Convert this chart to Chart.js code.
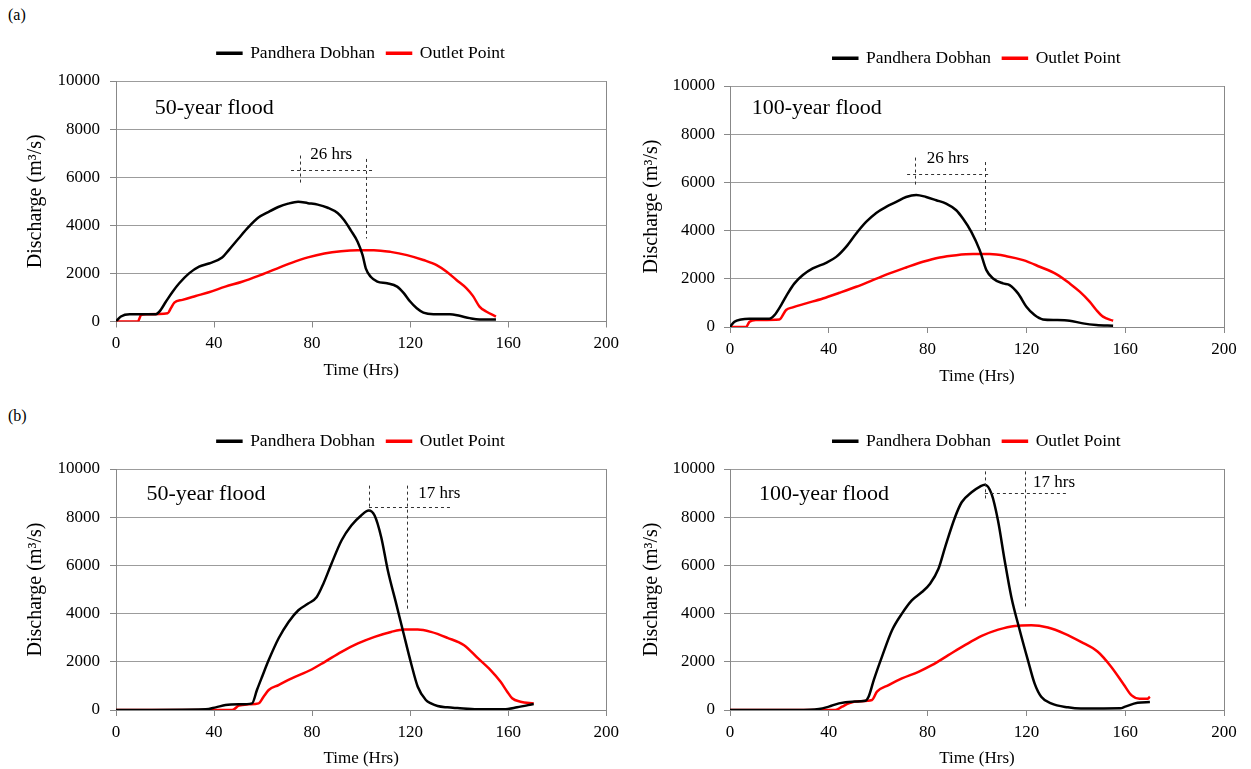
<!DOCTYPE html>
<html>
<head>
<meta charset="utf-8">
<title>Flood hydrographs</title>
<script src="https://cdn.jsdelivr.net/npm/chart.js@4.4.1/dist/chart.umd.min.js"></script>
<style>
    html, body {
        margin: 0;
        padding: 0;
        background: #fff;
    }
    body {
        position: relative;
        width: 1251px;
        height: 769px;
        overflow: hidden;
        font-family: "Liberation Serif", "Times New Roman", serif;
    }
    .panel {
        position: absolute;
    }
    .tag {
        position: absolute;
        left: 8px;
        font-size: 16px;
        line-height: 20px;
        color: #000;
    }
</style>
</head>
<body>
<div class="tag" style="top:5px">(a)</div>
<div class="tag" style="top:406px">(b)</div>

<div class="panel" style="left:0;top:0;width:625px;height:390px"><canvas id="chartA50"></canvas></div>
<div class="panel" style="left:625px;top:0;width:626px;height:390px"><canvas id="chartA100"></canvas></div>
<div class="panel" style="left:0;top:390px;width:625px;height:379px"><canvas id="chartB50"></canvas></div>
<div class="panel" style="left:625px;top:390px;width:626px;height:379px"><canvas id="chartB100"></canvas></div>

<script>
// (a) 50-year flood
const aPdTime50 = [0, 2, 5.6, 16.3, 17.7, 20.4, 23.1, 25.8, 29.8, 33.9, 37.9, 43.3, 46, 50, 54.1, 58.1, 62.1, 66.2, 70.2, 74.3, 78.3, 82.3, 86.4, 90.4, 93.1, 95.8, 98.6, 100.6, 101.9, 103.9, 106.6, 110.6, 114.7, 117.4, 120, 122.7, 125.4, 129.5, 136.2, 140.2, 144.3, 148.3, 155];
const aPdFlow50 = [0, 210, 305, 305, 410, 830, 1240, 1590, 2000, 2280, 2410, 2660, 2970, 3450, 3930, 4320, 4550, 4760, 4900, 4980, 4920, 4860, 4730, 4510, 4210, 3790, 3310, 2760, 2210, 1860, 1660, 1590, 1450, 1180, 830, 550, 370, 305, 305, 235, 140, 85, 85];
const aOutTime50 = [0, 8.9, 10.3, 12.3, 21.1, 22.4, 23.8, 27.1, 32.5, 37.9, 44.6, 51.4, 58.1, 64.8, 71.6, 78.3, 85, 91.8, 98.5, 105.2, 112, 118.7, 125.4, 130.8, 134.9, 138.9, 143, 145.6, 148.3, 151, 155];
const aOutFlow50 = [0, 0, 280, 305, 345, 555, 785, 900, 1060, 1215, 1450, 1655, 1900, 2170, 2440, 2665, 2830, 2925, 2965, 2965, 2895, 2760, 2555, 2345, 2070, 1725, 1380, 1065, 620, 415, 205];

// (a) 100-year flood
const aPdTime100 = [0, 1.8, 4.5, 7.8, 15.9, 18, 20.7, 23.4, 26.1, 29.5, 33.5, 38.9, 43, 47, 51.1, 55.1, 59.2, 63.2, 67.3, 71.3, 75.4, 79.4, 83.5, 87.5, 91.6, 94.3, 97.7, 101.1, 103.8, 106.5, 110.5, 113.2, 116.6, 120, 123.3, 126.7, 132.1, 137.5, 142.9, 148.3, 155.1];
const aPdFlow100 = [0, 220, 315, 345, 345, 495, 910, 1395, 1810, 2155, 2430, 2665, 2910, 3325, 3880, 4360, 4735, 4985, 5190, 5395, 5480, 5395, 5260, 5120, 4845, 4500, 3950, 3190, 2360, 2015, 1810, 1740, 1395, 840, 495, 315, 290, 260, 150, 85, 55];
const aOutTime100 = [0, 6.5, 7.9, 10.5, 20, 22.7, 25.4, 30.8, 37.6, 44.3, 51.1, 57.8, 64.6, 71.3, 78.1, 84.9, 91.6, 98.4, 105.1, 111.9, 118.7, 125.4, 132.1, 137.5, 141.6, 145.6, 148.3, 151, 155.1];
const aOutFlow100 = [0, 0, 220, 290, 315, 705, 815, 980, 1185, 1420, 1670, 1945, 2225, 2470, 2705, 2885, 2980, 3025, 3025, 2940, 2775, 2500, 2195, 1810, 1465, 1050, 705, 430, 260];

// (b) 50-year flood
const bPdTime50 = [0, 36.6, 40.7, 44.7, 50.1, 55.5, 57.5, 59.6, 62.3, 66.3, 70.4, 74.4, 78.4, 81.9, 84.6, 87.9, 92, 96, 100, 103.1, 105.5, 108.2, 110.9, 114.3, 117, 120.4, 123.1, 126.4, 128.5, 131.2, 135.2, 139.3, 147.4, 158.2, 163.6, 170.4];
const bPdFlow50 = [0, 30, 110, 205, 235, 275, 830, 1380, 2070, 2965, 3655, 4140, 4415, 4690, 5240, 6070, 7035, 7655, 8070, 8275, 8070, 7170, 5790, 4415, 3310, 1930, 965, 415, 275, 165, 110, 80, 30, 30, 110, 250];
const bOutTime50 = [0, 47.4, 50.1, 54.1, 58.2, 60.2, 62.3, 66.3, 71.7, 79.8, 85.2, 92, 98.7, 105.5, 112.2, 117.7, 123.1, 128.5, 135.2, 142, 147.4, 152.8, 156.9, 159.6, 161.6, 165, 170.4];
const bOutFlow50 = [0, 0, 180, 235, 275, 550, 830, 1035, 1310, 1680, 2000, 2415, 2760, 3035, 3240, 3340, 3340, 3240, 2995, 2690, 2170, 1655, 1170, 760, 485, 345, 275];

// (b) 100-year flood
const bPdTime100 = [0, 27, 36, 40, 44.1, 49.4, 54.8, 56.1, 58.2, 61.5, 65.6, 69.6, 73.6, 77.7, 81, 84.4, 87.1, 91.1, 93.8, 97.8, 101.2, 103.2, 105.9, 108.5, 111.2, 113.9, 117.3, 120.6, 123.3, 126, 130, 136.8, 142.1, 158, 160, 165, 170];
const bPdFlow100 = [0, 0, 40, 140, 275, 345, 385, 550, 1240, 2205, 3310, 4000, 4550, 4895, 5240, 5860, 6760, 8000, 8620, 9035, 9270, 9350, 8965, 7860, 6205, 4690, 3310, 2070, 1105, 550, 275, 110, 60, 70, 140, 300, 330];
const bOutTime100 = [0, 42.7, 45.4, 48.1, 52.1, 57.5, 59.5, 64.2, 69.6, 76.3, 81.7, 88.4, 95.1, 101.9, 108.6, 115.3, 122, 128.7, 135.4, 142.1, 148.9, 154.3, 159.4, 162.6, 165.8, 169, 170];
const bOutFlow100 = [0, 0, 140, 275, 360, 415, 760, 1035, 1310, 1585, 1860, 2275, 2690, 3075, 3335, 3490, 3515, 3420, 3170, 2825, 2415, 1795, 1060, 605, 470, 470, 550];

// axis ticks
const timeTicks = [0, 40, 80, 120, 160, 200];
const flowTicks = [0, 2000, 4000, 6000, 8000, 10000];

// peak lag marks: peak times (hrs) and the discharge span of each guide
const aLag50 = {text: "26 hrs", peaks: [75, 102], tops: [6900, 6760], bottoms: [5750, 3450], across: 6280, from: 71.4, to: 104.6, textAt: [87.8, 6940]};
const aLag100 = {text: "26 hrs", peaks: [75.1, 103.2], tops: [7030, 6845], bottoms: [5880, 3990], across: 6365, from: 71.7, to: 105.1, textAt: [88.2, 6985]};
const bLag50 = {text: "17 hrs", peaks: [103.2, 118.8], tops: [9310, 9310], bottoms: [8275, 4140], across: 8410, from: 103.2, to: 136.6, textAt: [131.9, 8990]};
const bLag100 = {text: "17 hrs", peaks: [103.2, 119.3], tops: [9900, 9900], bottoms: [8760, 4270], across: 8990, from: 103.2, to: 136.1, textAt: [131.2, 9445]};

Chart.defaults.font.family = "'Liberation Serif', 'Times New Roman', serif";
Chart.defaults.color = "#000";

const AXIS_GREY = "#888";
const GRID_GREY = "#9c9c9c";

function toPoints(times, flows) {
    return times.map(function (t, i) {
        return {x: t, y: flows[i]};
    });
}

// flood name + the dashed lag lines drawn on top of the curves
const floodNotes = {
    id: "floodNotes",
    afterDatasetsDraw(chart, args, opts) {
        const ctx = chart.ctx;
        const x = chart.scales.x;
        const y = chart.scales.y;
        const lag = opts.lag;

        ctx.save();
        ctx.fillStyle = "#000";
        ctx.textBaseline = "middle";
        ctx.textAlign = "left";
        ctx.font = "22px 'Liberation Serif'";
        ctx.fillText(opts.title, x.getPixelForValue(opts.titleAt[0]), y.getPixelForValue(opts.titleAt[1]));

        ctx.strokeStyle = "#333";
        ctx.lineWidth = 1;
        ctx.setLineDash([3, 3]);
        lag.peaks.forEach(function (t, i) {
            const px = Math.round(x.getPixelForValue(t)) + 0.5;
            ctx.beginPath();
            ctx.moveTo(px, y.getPixelForValue(lag.tops[i]));
            ctx.lineTo(px, y.getPixelForValue(lag.bottoms[i]));
            ctx.stroke();
        });
        const py = Math.round(y.getPixelForValue(lag.across)) + 0.5;
        ctx.beginPath();
        ctx.moveTo(x.getPixelForValue(lag.from), py);
        ctx.lineTo(x.getPixelForValue(lag.to), py);
        ctx.stroke();

        ctx.setLineDash([]);
        ctx.textAlign = "center";
        ctx.font = "17px 'Liberation Serif'";
        ctx.fillText(lag.text, x.getPixelForValue(lag.textAt[0]), y.getPixelForValue(lag.textAt[1]));
        ctx.restore();
    },
};

function createFloodChart(canvasId, pdTime, pdFlow, outTime, outFlow, notes, box) {
    const ctx = document.getElementById(canvasId).getContext("2d");

    return new Chart(ctx, {
        type: "line",
        data: {
            datasets: [
                {
                    label: "Pandhera Dobhan",
                    data: toPoints(pdTime, pdFlow),
                    borderColor: "#000",
                    backgroundColor: "#000",
                    borderWidth: 2.5,
                    pointRadius: 0,
                    tension: 0.4,
                    cubicInterpolationMode: "monotone",
                },
                {
                    label: "Outlet Point",
                    data: toPoints(outTime, outFlow),
                    borderColor: "#ff0000",
                    backgroundColor: "#ff0000",
                    borderWidth: 2.5,
                    pointRadius: 0,
                    tension: 0.4,
                    cubicInterpolationMode: "monotone",
                },
            ],
        },
        options: {
            responsive: true,
            maintainAspectRatio: false,
            animation: false,
            layout: {
                padding: {left: 0, right: box.padRight, top: box.padTop, bottom: 0},
            },
            plugins: {
                legend: {
                    position: "top",
                    fullSize: false,
                    labels: {
                        boxWidth: 24,
                        boxHeight: 1,
                        padding: 12,
                        font: {size: 17.5},
                    },
                },
                // empty spacer between legend and plot
                subtitle: {
                    display: true,
                    text: "",
                    fullSize: false,
                    weight: 500,
                    padding: {top: 0, bottom: 7.8},
                    font: {size: 1},
                },
                tooltip: {enabled: false},
                floodNotes: notes,
            },
            scales: {
                x: {
                    type: "linear",
                    min: timeTicks[0],
                    max: timeTicks[timeTicks.length - 1],
                    afterBuildTicks: function (scale) {
                        scale.ticks = timeTicks.map(function (v) {
                            return {value: v};
                        });
                    },
                    ticks: {
                        padding: 6,
                        font: {size: 17},
                    },
                    grid: {
                        color: function (c) {
                            return c.tick && c.tick.value === 200 ? AXIS_GREY : "rgba(0,0,0,0)";
                        },
                        tickColor: AXIS_GREY,
                        tickLength: 6,
                    },
                    border: {color: AXIS_GREY},
                    title: {
                        display: true,
                        text: "Time (Hrs)",
                        font: {size: 17},
                        padding: {top: 0, bottom: box.xTitlePad},
                    },
                    afterFit: function (scale) {
                        scale.height = box.xAxisHeight;
                    },
                },
                y: {
                    min: flowTicks[0],
                    max: flowTicks[flowTicks.length - 1],
                    afterBuildTicks: function (scale) {
                        scale.ticks = flowTicks.map(function (v) {
                            return {value: v};
                        });
                    },
                    ticks: {
                        padding: box.yTickPad,
                        font: {size: 17},
                        callback: function (value) {
                            return String(value);
                        },
                    },
                    grid: {
                        color: GRID_GREY,
                        tickColor: AXIS_GREY,
                        tickLength: 6,
                    },
                    border: {color: AXIS_GREY},
                    title: {
                        display: true,
                        text: "Discharge (m\u00B3/s)",
                        font: {size: 20},
                        padding: {top: box.yTitlePad, bottom: 0},
                    },
                    afterFit: function (scale) {
                        scale.width = box.yAxisWidth;
                    },
                },
            },
        },
        plugins: [floodNotes],
    });
}

createFloodChart("chartA50", aPdTime50, aPdFlow50, aOutTime50, aOutFlow50,
    {title: "50-year flood", titleAt: [15.8, 8880], lag: aLag50},
    {padTop: 32.5, padRight: 14, yAxisWidth: 116, xAxisHeight: 68.5, xTitlePad: 8.8, yTickPad: 10, yTitlePad: 24});

createFloodChart("chartA100", aPdTime100, aPdFlow100, aOutTime100, aOutFlow100,
    {title: "100-year flood", titleAt: [8.8, 9070], lag: aLag100},
    {padTop: 37.5, padRight: 27, yAxisWidth: 105, xAxisHeight: 63, xTitlePad: 3.3, yTickPad: 9, yTitlePad: 15});

createFloodChart("chartB50", bPdTime50, bPdFlow50, bOutTime50, bOutFlow50,
    {title: "50-year flood", titleAt: [12.4, 8940], lag: bLag50},
    {padTop: 30.5, padRight: 14, yAxisWidth: 116, xAxisHeight: 59, xTitlePad: 0, yTickPad: 10, yTitlePad: 24});

createFloodChart("chartB100", bPdTime100, bPdFlow100, bOutTime100, bOutFlow100,
    {title: "100-year flood", titleAt: [11.7, 8940], lag: bLag100},
    {padTop: 30.5, padRight: 27, yAxisWidth: 105, xAxisHeight: 59, xTitlePad: 0, yTickPad: 9, yTitlePad: 15});
</script>
</body>
</html>
